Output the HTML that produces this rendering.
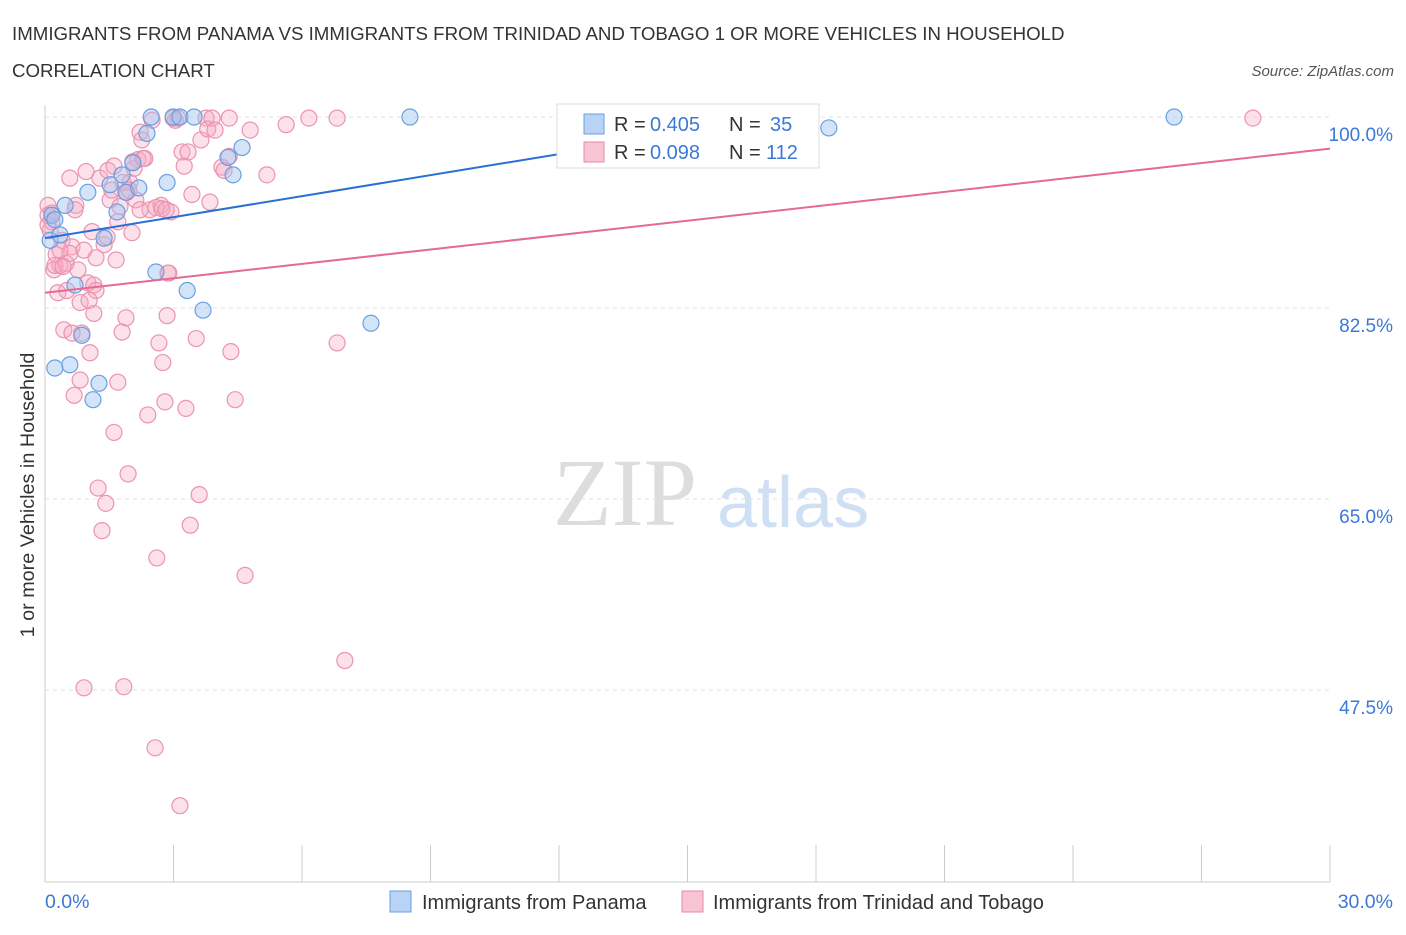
<!DOCTYPE html>
<html><head><meta charset="utf-8"><style>
body{margin:0;background:#fff;font-family:"Liberation Sans",sans-serif}
</style></head><body>
<svg id="chart" width="1406" height="930" xmlns="http://www.w3.org/2000/svg" font-family="Liberation Sans, sans-serif">
<text x="12" y="40" font-size="18.7" fill="#333">IMMIGRANTS FROM PANAMA VS IMMIGRANTS FROM TRINIDAD AND TOBAGO 1 OR MORE VEHICLES IN HOUSEHOLD</text>
<text x="12" y="77" font-size="18.7" fill="#333">CORRELATION CHART</text>
<text x="1394" y="76" font-size="15" fill="#555" font-style="italic" text-anchor="end">Source: ZipAtlas.com</text>
<g>
<text x="553" y="525" font-size="96" fill="#ddd" font-family="Liberation Serif, serif">ZIP</text>
<text x="717" y="527" font-size="72" fill="#cfe0f4">atlas</text>
</g>
<g id="grid"></g>
<g id="axes"></g>
<text transform="translate(34,495) rotate(-90)" font-size="19.8" fill="#333" text-anchor="middle">1 or more Vehicles in Household</text>
<g id="pts"></g>
<g id="lines"></g>
<g>
<rect x="557" y="104" width="262" height="64" fill="#fff" stroke="#ddd"/>
<rect x="584" y="114" width="20" height="20" fill="#b8d3f5" stroke="#6a9fe0"/>
<rect x="584" y="142" width="20" height="20" fill="#f8c4d4" stroke="#e88aa8"/>
<text y="131" font-size="20" fill="#333"><tspan x="614">R =</tspan><tspan x="650" fill="#3b78d8">0.405</tspan><tspan x="729">N =</tspan><tspan x="770" fill="#3b78d8">35</tspan></text>
<text y="159" font-size="20" fill="#333"><tspan x="614">R =</tspan><tspan x="650" fill="#3b78d8">0.098</tspan><tspan x="729">N =</tspan><tspan x="766" fill="#3b78d8">112</tspan></text>
</g>
<g>
<rect x="390" y="891" width="21" height="21" fill="#b8d3f5" stroke="#6a9fe0"/>
<text x="422" y="909" font-size="20" fill="#333">Immigrants from Panama</text>
<rect x="682" y="891" width="21" height="21" fill="#f8c4d4" stroke="#e88aa8"/>
<text x="713" y="909" font-size="20" fill="#333">Immigrants from Trinidad and Tobago</text>
</g>
</svg>
<script>
const yTicks=[100,82.5,65,47.5];
const xTickLabels=["0.0%","30.0%"];
const blueX=[0.12,0.16,0.23,0.35,0.47,0.58,0.70,0.86,1.0,1.12,1.26,1.38,1.52,1.68,1.8,1.89,2.05,2.19,2.38,2.48,2.59,2.85,2.99,3.15,3.32,3.48,3.69,4.27,4.39,4.6,7.61,8.52,18.3,26.36,0.23];
const blueY=[88.7,91.0,77.0,89.2,91.9,77.3,84.6,80.0,93.1,74.1,75.6,88.9,93.8,91.3,94.7,93.1,95.8,93.5,98.5,100,85.8,94.0,100,100,84.1,100,82.3,96.3,94.7,97.2,81.1,100,99.0,100,90.6];
const pinkX=[.07,.12,.16,.21,.26,.3,.35,.4,.44,.51,.58,.63,.68,.72,.77,.82,.86,.91,.96,1.0,1.05,1.1,1.14,1.19,1.24,1.28,1.33,1.38,1.42,1.47,1.52,1.56,1.61,1.66,1.7,1.75,1.8,1.84,1.89,1.94,1.98,2.03,2.08,2.12,2.17,2.22,2.26,2.33,2.4,2.45,2.5,2.57,2.61,2.66,2.71,2.75,2.8,2.85,2.89,2.94,3.04,3.1,3.15,3.2,3.25,3.29,3.34,3.39,3.43,3.53,3.6,3.64,3.76,3.8,3.85,3.9,4.13,4.18,4.3,4.34,4.44,4.67,4.79,5.18,5.63,6.16,6.82,6.82,7.0,28.2,
.07,.16,.23,.49,.58,.63,.82,.91,1.14,1.19,1.7,1.82,1.91,2.05,2.22,2.59,2.73,2.87,2.99,.07,.35,.42,.7,1.03,1.45,1.61,1.96,2.29,2.83,4.3,3.97];
const pinkY=[91.9,89.6,91.2,86.0,87.4,83.9,86.4,88.7,80.5,84.1,94.4,88.1,74.5,91.9,86.0,75.9,80.2,47.7,95.0,84.8,78.4,89.5,82.0,87.1,66.0,94.4,62.1,88.3,64.6,95.1,92.4,93.3,71.1,86.9,75.7,91.8,80.3,47.8,81.6,67.3,94.0,89.4,95.3,92.4,96.1,98.6,97.9,96.2,72.7,91.5,99.7,42.2,59.6,79.3,91.9,77.5,73.9,81.8,85.7,91.3,99.7,99.9,36.9,96.8,95.5,73.3,96.8,62.6,92.9,79.7,65.4,97.9,99.9,98.9,92.2,99.9,95.4,95.1,99.9,78.5,74.1,58.0,98.8,94.7,99.3,99.9,99.9,79.3,50.2,99.9,
91.0,90.4,86.4,86.6,87.5,80.2,83.0,87.8,84.6,84.1,90.4,94.0,93.1,95.9,91.5,91.7,91.6,85.7,99.9,90.1,87.8,86.3,91.5,83.2,89.0,95.5,93.3,96.2,91.5,96.4,98.8];
const blueLine=[[0,88.9],[17.3,100]];
const pinkLine=[[0,83.9],[30,97.1]];
const X0=45,X1=1330,Y100=117,PXPER=10.914;
const sx=v=>X0+(v/30)*(X1-X0);
const sy=v=>Y100+(100-v)*PXPER;
const NS="http://www.w3.org/2000/svg";
function mk(t,a,p){const e=document.createElementNS(NS,t);for(const k in a)e.setAttribute(k,a[k]);p.appendChild(e);return e;}
const grid=document.getElementById('grid'),axes=document.getElementById('axes');
yTicks.forEach(v=>{
 const l=mk('line',{x1:X0,x2:1330,y1:sy(v),y2:sy(v),stroke:'#e2e2e2','stroke-dasharray':'4,4'},grid);
 
 
 const t=mk('text',{x:1393,y:sy(v)+24,'font-size':19,fill:'#3b78d8','text-anchor':'end'},axes);
 t.textContent=v.toFixed(1)+'%';
 
 
});
mk('line',{x1:X0,x2:X0,y1:105,y2:882,stroke:'#ccc'},axes);
mk('line',{x1:X0,x2:1330,y1:882,y2:882,stroke:'#ccc'},axes);
for(let i=0;i<=10;i++){const x=X0+i*(X1-X0)/10;mk('line',{x1:x,x2:x,y1:845,y2:882,stroke:'#ccc'},axes);}
const t0=mk('text',{x:45,y:908,'font-size':19.5,fill:'#3b78d8'},axes);t0.textContent=xTickLabels[0];


const t1=mk('text',{x:1393,y:908,'font-size':19.5,fill:'#3b78d8','text-anchor':'end'},axes);t1.textContent=xTickLabels[1];


const pts=document.getElementById('pts');
pinkX.forEach((x,i)=>{const c=mk('circle',{cx:sx(x),cy:sy(pinkY[i]),r:8,fill:'rgba(245,170,195,0.35)',stroke:'#eb93b0','stroke-width':1.2},pts);
 
 });
blueX.forEach((x,i)=>{const c=mk('circle',{cx:sx(x),cy:sy(blueY[i]),r:8,fill:'rgba(160,195,240,0.45)',stroke:'#6a9fe0','stroke-width':1.2},pts);
 
 });
const lines=document.getElementById('lines');
const bl=mk('line',{x1:sx(blueLine[0][0]),y1:sy(blueLine[0][1]),x2:sx(blueLine[1][0]),y2:sy(blueLine[1][1]),stroke:'#2a6fd6','stroke-width':2},lines);


const pl=mk('line',{x1:sx(pinkLine[0][0]),y1:sy(pinkLine[0][1]),x2:sx(pinkLine[1][0]),y2:sy(pinkLine[1][1]),stroke:'#e56a93','stroke-width':2},lines);


</script>
</body></html>
